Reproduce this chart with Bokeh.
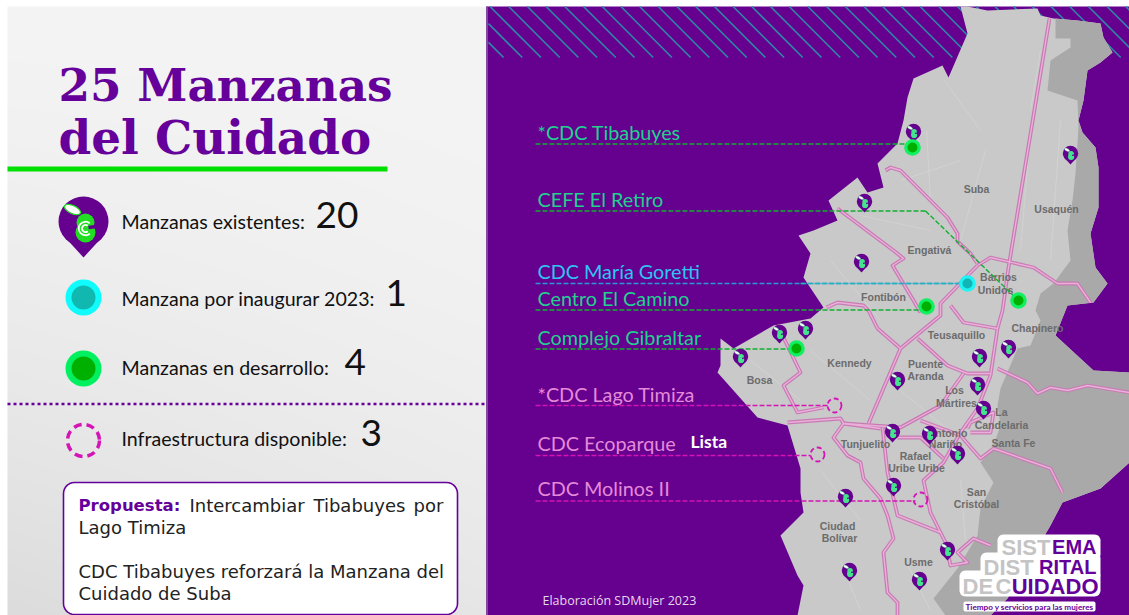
import numpy as np
from bokeh.plotting import figure
from bokeh.embed import file_html
from bokeh.resources import INLINE
from bokeh.core.properties import value
from bokeh.models import Range1d

W, H = 1129, 615
PURPLE = "#65008f"
TITLE = "#65009a"

# ---- data (map geometry, in picture coordinates)
city_x = [960,967,987,1037,1040,1053,1077,1100,1103,1112,1100,1087,1083,1078,1082,1095,1098,1098,1090,1095,1107,1093,1067,1055,1093,1129,1129,1100,1062,1050,1007,990,797,803,797,780,803,800,800,787,757,717,720,720,733,773,810,823,803,810,798,813,837,828,857,867,883,877,897,903,907,913,942,948,967]
city_y = [6,6,10,8,15,18,20,23,37,52,62,70,100,120,132,147,167,207,233,267,283,302,305,335,370,372,462,488,502,525,598,615,615,585,575,535,512,492,468,425,417,372,365,338,348,325,318,307,277,253,235,230,220,200,177,192,187,163,143,120,97,78,65,77,33]
hills_x = [1055,1055,1070,1070,1050,1047,1077,1078,1075,1072,1067,1070,1053,1040,1035,1040,1030,1017,1000,997,1000,993,980,993,980,977,957,933,945,990,1007,1050,1062,1100,1129,1129,1093,1055,1067,1093,1107,1095,1090,1098,1098,1095,1082,1078,1083,1087,1100,1112,1103,1100,1077]
hills_y = [18,38,38,47,60,90,100,127,173,200,230,260,283,293,310,320,345,348,388,405,425,445,462,482,508,535,568,598,615,615,598,525,502,488,462,372,370,335,305,302,283,267,233,207,167,147,132,120,100,70,62,52,37,23,20]
roads = [
    [(1049,18),(1008,267),(1002,310),(997,328),(990,375),(977,408),(960,432),(943,462),(923,480),(930,512),(945,542)],
    [(885,170),(890,167),(900,170),(920,190),(947,217),(957,233),(957,241),(970,253),(977,263)],
    [(977,265),(990,257),(1033,267),(1057,283),(1077,283),(1090,302)],
    [(837,208),(893,250),(903,258),(892,265),(913,300),(920,312)],
    [(826,307),(837,302),(863,305),(868,310),(877,328),(900,348)],
    [(977,265),(940,303),(940,315),(900,348),(868,423)],
    [(950,305),(963,322),(997,328)],
    [(917,338),(947,365),(967,373),(990,373)],
    [(997,368),(1027,382),(1037,393),(1050,387),(1067,390),(1087,385),(1129,392)],
    [(963,373),(940,405),(900,427),(843,423)],
    [(787,422),(840,418),(843,423),(880,428)],
    [(782,335),(800,372),(783,385),(797,412),(823,407)],
    [(843,423),(833,437),(847,455),(860,462),(863,478),(880,498),(887,515),(893,538),(883,552),(887,592),(897,602),(897,615)],
    [(882,427),(887,472),(897,515),(940,532)],
    [(897,437),(920,437),(943,458)],
    [(920,420),(960,435),(980,458),(993,448)],
    [(993,448),(1050,468),(1062,492)],
    [(967,428),(970,422),(993,412),(990,432),(970,432)],
    [(945,542),(950,565),(967,562),(957,552),(973,538),(990,545)],
]
streets = [
    [(926,130),(930,200),(948,215)],[(944,80),(980,130)],[(1040,50),(1030,110)],[(985,150),(960,240)],
    [(1030,130),(1020,250)],[(1060,120),(1050,260)],[(900,180),(960,160)],[(860,215),(930,230)],
    [(830,260),(880,320)],[(810,350),(870,400)],[(750,360),(800,400)],[(900,390),(960,440)],
    [(820,470),(860,520)],[(905,560),(930,610)],[(840,560),(860,610)],[(960,480),(965,540)],
]
district_names = ["Suba","Usaquén","Engativá","Barrios","Unidos","Fontibón","Teusaquillo","Chapinero","Kennedy","Puente","Aranda","Bosa","Los","Mártires","La","Candelaria","Antonio","Nariño","Santa Fe","Tunjuelito","Rafael","Uribe Uribe","San","Cristóbal","Ciudad","Bolívar","Usme"]
district_x = [976,1056,929,998,995,883,956,1037,849,925,925,759,954,956,1001,1001,947,945,1013,865,915,916,976,976,837,839,918]
district_y = [188,208,249,276,289,296,334,327,362,363,375,379,389,402,411,424,432,443,442,443,455,467,491,503,525,537,561]
pin_x = [913,1070,864,861,779,805,740,897,979,1008,977,983,892,929,957,893,845,947,849,919]
pin_y = [131,153,201,261,332,328,356,379,356,347,384,408,431,433,453,485,496,549,570,579]
dev_x = [912,1018,926,796]
dev_y = [147,300,306,348]
open_x = [967]
open_y = [283]
avail_x = [834,817,920]
avail_y = [405,454,499]
site_names = ["*CDC Tibabuyes","CEFE El Retiro","CDC María Goretti","Centro El Camino","Complejo Gibraltar","*CDC Lago Timiza","CDC Ecoparque","CDC Molinos II"]
site_label_y = [131,198,270,297,336,393,442,487]
site_colors = ["#22d18e","#22d18e","#2fc4f2","#22d18e","#22d18e","#e58ad8","#e58ad8","#e58ad8"]
leader_y = [143.5,210.5,283,309.5,348.5,405,455,500.5]
leader_x_end = [905,925,960,920,790,828,810,915]
leader_colors = ["#12b030","#12b030","#2a9ad0","#12b030","#12b030","#d414b4","#d414b4","#d414b4"]
legend_labels = ["Manzanas existentes:","Manzana por inaugurar 2023:","Manzanas en desarrollo:","Infraestructura disponible:"]
legend_counts = ["20","1","4","3"]
legend_label_y = [221,298,367,438]
legend_count_x = [315,385,344,360]
legend_count_y = [214,292,361,432]

# ---- figure: one data unit is one pixel of the picture
p = figure(width=W, height=H, output_backend="svg", toolbar_location=None,
           x_range=Range1d(0, 1129), y_range=Range1d(615, 0),
           min_border=0, outline_line_color=None, background_fill_color="white")
p.axis.visible = False
p.grid.visible = False

def label(x, y, t, size, color, font="Liberation Sans", style="normal", align="left", base="middle"):
    p.text([x], [y], text=[t], text_font=value(font), text_font_size=f"{size}px", text_font_style=style,
           text_color=color, text_align=align, text_baseline=base)

def rounded(x0, y0, x1, y1, r):
    a = np.linspace(0, np.pi/2, 8)
    xs = np.r_[x1-r+r*np.sin(a), x1-r+r*np.cos(a), x0+r-r*np.sin(a), x0+r-r*np.cos(a)]
    ys = np.r_[y0+r-r*np.cos(a), y1-r+r*np.sin(a), y1-r+r*np.cos(a), y0+r-r*np.sin(a)]
    return xs, ys

# left paper background
yy, xx = np.mgrid[0:306, 0:240]
g = 244 - 14*(yy/305.0)**2 - 10*(yy/305.0)*(1-xx/239.0)
rgba = np.zeros((306, 240), dtype=np.uint32)
v = rgba.view(dtype=np.uint8).reshape((306, 240, 4))
v[..., 0] = g; v[..., 1] = g; v[..., 2] = g+1; v[..., 3] = 255
p.image_rgba(image=[rgba], x=7, y=6, dw=480, dh=609)

# right panel
p.quad(left=[486], right=[1129], top=[6], bottom=[615], fill_color=PURPLE, line_color=None)
p.quad(left=[485.5], right=[487.5], top=[6], bottom=[615], fill_color="#7d4a9e", line_color=None)
offs = np.arange(396.0, 1130, 18.7)
offs = offs[offs + 51 > 489]
x_start = np.maximum(offs, 488)
p.segment(x0=x_start, y0=6+(x_start-offs), x1=offs+51, y1=[57]*len(offs), line_color="#2f86a6", line_width=1.7)

# map
p.patch(city_x, city_y, fill_color="#c9c9c9", line_color=None)
p.patch(hills_x, hills_y, fill_color="#a9a9a9", line_color=None)
p.multi_line([[c[0] for c in r] for r in streets], [[c[1] for c in r] for r in streets],
             line_color="#d6d6d6", line_width=0.7)
rx = [[c[0] for c in r] for r in roads]
ry = [[c[1] for c in r] for r in roads]
p.multi_line(rx, ry, line_color="#c87ab5", line_width=3.8, line_join="round")
p.multi_line(rx, ry, line_color="#eab0d8", line_width=1.4, line_join="round")
p.text(district_x, district_y, text=district_names, text_font=value("Liberation Sans"), text_font_size="10.5px",
       text_font_style="bold", text_color="#6c6c6c", text_align="center", text_baseline="middle")

# leaders
for yv, xe, c in zip(leader_y, leader_x_end, leader_colors):
    p.line([535, xe], [yv, yv], line_color=c, line_width=1.4, line_dash="5 2")
p.line([925, dev_x[1]], [leader_y[1], dev_y[1]], line_color=leader_colors[1], line_width=1.4, line_dash="5 2")
p.line([800, leader_x_end[2]], [leader_y[2], leader_y[2]], line_color="#22b4c0", line_width=1.4, line_dash="5 2")

# pins
def pins(xs, ys, r, body="#44e48c", rings=False):
    xs = np.asarray(xs, float); ys = np.asarray(ys, float)
    p.patches([[x-r*0.86, x, x+r*0.86] for x in xs], [[y+r*0.5, y+r*1.44, y+r*0.5] for y in ys],
              fill_color=PURPLE, line_color=None)
    p.circle(xs, ys, radius=r, fill_color=PURPLE, line_color=None)
    p.circle(xs+r*0.08, ys+r*0.04, radius=r*0.36, fill_color=body, line_color=None)
    p.circle(xs+r*0.08, ys+r*0.44, radius=r*0.40, fill_color=body, line_color=None)
    p.segment(xs+r*0.52, ys+r*0.2, xs+r*0.2, ys+r*0.24, line_color=PURPLE, line_width=r*0.14)
    p.ellipse(xs-r*0.44, ys-r*0.48, width=r*0.7, height=r*0.32, angle=-0.45, fill_color="white", line_color=body, line_width=r*0.05)
    if rings:
        for rr in [0.27, 0.14]:
            p.arc(xs+r*0.08, ys+r*0.28, radius=r*rr, start_angle=0.9, end_angle=5.4, direction="anticlock",
                  line_color="white", line_width=r*0.07)

pins(pin_x, pin_y, 7.7)

def dots(xs, ys, ro, ri, co, ci):
    p.circle(xs, ys, radius=ro, fill_color=co, line_color=None)
    p.circle(xs, ys, radius=ri, fill_color=ci, line_color=None)

dots(dev_x, dev_y, 8.3, 5, "#10f060", "#00b000")
dots(open_x, open_y, 8.3, 5, "#1ff3f3", "#12b5b5")
p.circle(avail_x, avail_y, radius=7, fill_color=None, line_color="#d414b4", line_width=1.8, line_dash="5 3")

# site labels
for t, yv, c in zip(site_names, site_label_y, site_colors):
    label(537, yv, t, 19.8, c, font="Lato")
label(690, 441, "Lista", 17.5, "white", font="Lato", style="bold")
label(542, 600, "Elaboración SDMujer 2023", 12.5, "#e6d8ee", font="Open Sans")

# title
label(58, 84, "25 Manzanas", 45.3, TITLE, font="DejaVu Serif", style="bold")
label(58, 137, "del Cuidado", 46.8, TITLE, font="DejaVu Serif", style="bold")
p.quad(left=[7], right=[387], top=[166], bottom=[171], fill_color="#00e000", line_color=None)

# legend
for t, yv, n, nx, ny in zip(legend_labels, legend_label_y, legend_counts, legend_count_x, legend_count_y):
    label(121, yv, t, 19.6, "#111111", font="Lato")
    label(nx, ny, n, 37, "#111111", font="Lato")
pins([83], [221], 25, body="#22dd22", rings=True)
dots([83], [297], 18, 12, "#10fbfb", "#10b8b0")
dots([83], [368], 18, 12, "#00f060", "#00b000")
p.circle([83], [440], radius=16, fill_color=None, line_color="#d414b4", line_width=3.5, line_dash="8 5")
p.line([7, 484], [403.5, 403.5], line_color=TITLE, line_width=2.5, line_dash="3 3")

# proposal box
bx, by = rounded(63, 482, 457, 614, 11)
p.patch(bx, by, fill_color="white", line_color=TITLE, line_width=1.6)
label(78, 505, "Propuesta:", 16.5, TITLE, font="DejaVu Sans", style="bold")
for t, x in [("Intercambiar", 189), ("Tibabuyes", 313), ("por", 413)]:
    label(x, 505, t, 18, "#222222", font="DejaVu Sans")
label(78, 527, "Lago Timiza", 18, "#222222", font="DejaVu Sans")
label(78, 571, "CDC Tibabuyes reforzará la Manzana del", 18, "#222222", font="DejaVu Sans")
label(78, 593, "Cuidado de Suba", 18, "#222222", font="DejaVu Sans")

# logo
for box in [(997, 534, 1100, 560), (980, 552, 1100, 580), (959, 570, 1100, 596)]:
    lx, ly = rounded(*box, 6)
    p.patch(lx, ly, fill_color="white", line_color=None)
lx, ly = rounded(963, 601, 1095, 611, 2)
p.patch(lx, ly, fill_color="white", line_color=None)
label(1001, 546.5, "SIST", 22, "#c4c4c4", style="bold")
label(1096, 546.5, "EMA", 20, TITLE, style="bold", align="right")
label(983, 566.5, "DIST", 22, "#c4c4c4", style="bold")
label(1096, 566.5, "RITAL", 20, TITLE, style="bold", align="right")
label(962, 585.5, "DE", 22, "#c4c4c4", style="bold")
label(995, 585.5, "C", 22, "#c4c4c4", style="bold")
label(1098, 585.5, "UIDADO", 22, TITLE, style="bold", align="right")
label(1029, 606, "Tiempo y servicios para las mujeres", 8.2, TITLE, font="Lato", style="bold", align="center")

open("out.html", "w").write(file_html(p, INLINE))
